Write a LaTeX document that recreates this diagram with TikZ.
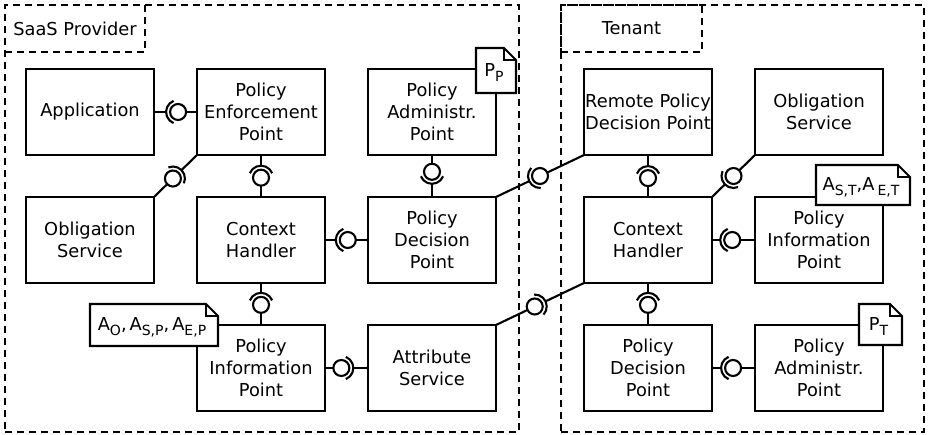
\documentclass[tikz,border=0pt]{standalone}
\usepackage{fontspec}
\setmainfont{DejaVu Sans}
\usetikzlibrary{calc}
\newcommand\lolli[3]{%
  \path (#1) -- (#2) coordinate[pos=#3] (lc);
  \draw[conn] (#1) -- ($(lc)!12pt!(#1)$);
  \draw[conn] (#2) -- ($(lc)!8pt!(#2)$);
  \draw[conn] (lc) circle[radius=8pt];
  \draw[conn] let \p1=($(#1)-(lc)$), \n1={atan2(\y1,\x1)-68} in ($(lc)+(\n1:12pt)$) arc[start angle=\n1, delta angle=136, radius=12pt];
}
\newcommand\notefig[6]{%
  \filldraw[conn, fill=white] (#2,#3) -- (#4-12,#3) -- (#4,#3+12) -- (#4,#5) -- (#2,#5) -- cycle;
  \draw[conn, line width=1.4pt] (#4-12,#3) -- (#4-12,#3+12) -- (#4,#3+12);
  \node[notetext] (#1) at ({(#2+#4)/2-2},{(#3+#5)/2+2}) {#6};
}
\newcommand\subs[1]{\raisebox{-5pt}{\fontsize{14}{15}\selectfont #1}}
\begin{document}
\begin{tikzpicture}[x=1pt,y=-1pt,
  txt/.style={font=\fontsize{17.8}{22}\selectfont},
  box/.style={txt, draw, line width=2.1pt, minimum width=128pt, minimum height=86pt, align=center, inner sep=0pt, outer sep=0pt},
  conn/.style={line width=2.1pt},
  cont/.style={txt, draw, dash pattern=on 7pt off 5pt, line width=2.1pt, inner sep=0pt, outer sep=0pt},
  notetext/.style={txt, inner sep=0pt, outer sep=0pt}
]
\useasboundingbox (0,0) rectangle (929,435);
% containers
\node[cont, minimum width=514pt, minimum height=427pt] (saas) at (262,218.5) {};
\node[cont, minimum width=140pt, minimum height=47pt, anchor=north west] (saaslbl) at (saas.north west) {SaaS Provider};
\node[cont, minimum width=363pt, minimum height=427pt] (ten) at (742.5,218.5) {};
\node[cont, minimum width=141pt, minimum height=47pt, anchor=north west] (tenlbl) at (ten.north west) {Tenant};
% left boxes
\node[box] (app)  at (90,112)  {Application};
\node[box] (pep)  at (261,112) {Policy\\Enforcement\\Point};
\node[box] (pap)  at (432,112) {Policy\\Administr.\\Point};
\node[box] (obl)  at (90,240)  {Obligation\\Service};
\node[box] (ch)   at (261,240) {Context\\Handler};
\node[box] (pdp)  at (432,240) {Policy\\Decision\\Point};
\node[box] (pip)  at (261,368) {Policy\\Information\\Point};
\node[box] (attr) at (432,368) {Attribute\\Service};
% right boxes
\node[box] (rpdp) at (648,112) {Remote Policy\\Decision Point};
\node[box] (obl2) at (819,112) {Obligation\\Service};
\node[box] (ch2)  at (648,240) {Context\\Handler};
\node[box] (pip2) at (819,240) {Policy\\Information\\Point};
\node[box] (pdp2) at (648,368) {Policy\\Decision\\Point};
\node[box] (pap2) at (819,368) {Policy\\Administr.\\Point};
% connectors (required, provided, position of ball)
\lolli{app.east}{pep.west}{0.56}
\lolli{pep.south west}{obl.north east}{0.56}
\lolli{pep.south}{ch.north}{0.54}
\lolli{ch.east}{pdp.west}{0.53}
\lolli{pdp.north}{pap.south}{0.6}
\lolli{ch.south}{pip.north}{0.52}
\lolli{attr.west}{pip.east}{0.62}
\lolli{pdp.north east}{rpdp.south west}{0.5}
\lolli{ch2.south west}{attr.north east}{0.56}
\lolli{rpdp.south}{ch2.north}{0.55}
\lolli{ch2.north east}{obl2.south west}{0.5}
\lolli{ch2.east}{pip2.west}{0.47}
\lolli{ch2.south}{pdp2.north}{0.52}
\lolli{pdp2.east}{pap2.west}{0.49}
% notes
\notefig{npp}{476}{48}{516}{93}{P\subs{P}}
\notefig{nat}{816}{165}{910}{205}{A\subs{S,T},A\,\subs{E,T}}
\notefig{npt}{859}{304}{902}{345}{P\subs{T}}
\notefig{nap}{90}{304}{218}{346}{A\subs{O},\hspace{3pt}A\subs{S,P},\hspace{3pt}A\subs{E,P}}
\end{tikzpicture}
\end{document}
